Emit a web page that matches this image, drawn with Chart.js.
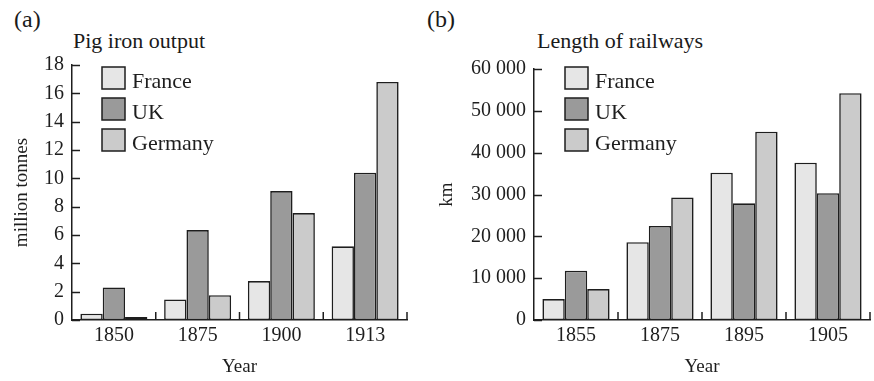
<!DOCTYPE html>
<html><head><meta charset="utf-8">
<script src="https://cdn.jsdelivr.net/npm/chart.js@4/dist/chart.umd.min.js"></script>
<style>
html,body{margin:0;padding:0;background:#fff}
body{width:874px;height:381px;position:relative;overflow:hidden;font-family:"Liberation Serif",serif;color:#1a1a1a}
.lab{position:absolute;font-size:24px;line-height:24px;white-space:nowrap}
.ttl{position:absolute;font-size:22px;line-height:22px;white-space:nowrap}
canvas{position:absolute;top:0}
</style></head><body>
<div class="lab" style="left:14px;top:7px">(a)</div>
<div class="ttl" style="left:73px;top:30px">Pig iron output</div>
<div class="lab" style="left:427px;top:7px">(b)</div>
<div class="ttl" style="left:537px;top:30px">Length of railways</div>
<canvas id="c1" width="434" height="381" style="left:0"></canvas>
<canvas id="c2" width="440" height="381" style="left:434px"></canvas>
<script>
// ---- data ----
const seriesNames = ["France", "UK", "Germany"];
const ironYears = ["1850", "1875", "1900", "1913"];
const ironFrance = [0.45, 1.45, 2.75, 5.2];
const ironUK = [2.3, 6.35, 9.1, 10.4];
const ironGermany = [0.22, 1.75, 7.55, 16.8];
const ironTicks = [0, 2, 4, 6, 8, 10, 12, 14, 16, 18];

const railYears = ["1855", "1875", "1895", "1905"];
const railFrance = [5000, 18600, 35200, 37600];
const railUK = [11800, 22500, 27900, 30300];
const railGermany = [7400, 29300, 45000, 54200];
const railTicks = [0, 10000, 20000, 30000, 40000, 50000, 60000];

// ---- styles ----
const fills = ["#e6e6e6", "#9a9a9a", "#cbcbcb"];
const ink = "#1e1e1e";
const FONT = "'Liberation Serif', serif";

const inTicks = {
  id: "inTicks",
  afterDatasetsDraw(chart) {
    const ctx = chart.ctx, a = chart.chartArea;
    const xs = chart.scales.x, ys = chart.scales.y;
    ctx.save();
    ctx.strokeStyle = ink; ctx.lineWidth = 1.5;
    ys.ticks.forEach(t => {
      const y = Math.round(ys.getPixelForValue(t.value)) + 0.5;
      ctx.beginPath(); ctx.moveTo(a.left, y); ctx.lineTo(a.left + 8, y); ctx.stroke();
    });
    const n = xs.getLabels().length;
    for (let i = 1; i <= n; i++) {
      const x = xs.getPixelForValue(i - 0.5);
      ctx.beginPath(); ctx.moveTo(x, a.bottom); ctx.lineTo(x, a.bottom - 8); ctx.stroke();
    }
    ctx.restore();
  }
};

const boxLegend = {
  id: "boxLegend",
  afterDraw(chart, args, opts) {
    const ctx = chart.ctx, a = chart.chartArea;
    ctx.save();
    ctx.font = "22px " + FONT;
    ctx.textBaseline = "alphabetic";
    chart.data.datasets.forEach((ds, i) => {
      const bx = a.left + opts.dx, by = opts.top + i * 31;
      ctx.fillStyle = ds.backgroundColor;
      ctx.fillRect(bx, by, 23, 22);
      ctx.strokeStyle = ink; ctx.lineWidth = 1.5;
      ctx.strokeRect(bx, by, 23, 22);
      ctx.fillStyle = ink;
      ctx.fillText(ds.label, bx + 30, by + 20.5);
    });
    ctx.restore();
  }
};

function fmt(v) {
  return v >= 10000 ? String(v).replace(/\B(?=(\d{3})+(?!\d))/g, " ") : String(v);
}

function makeChart(id, cats, vals, tickVals, yTitle, yWidth, padTop, padRight, yTitlePad, legDx) {
  return new Chart(document.getElementById(id), {
    type: "bar",
    data: {
      labels: cats,
      datasets: vals.map((v, i) => ({
        label: seriesNames[i], data: v,
        backgroundColor: fills[i], borderColor: ink, borderWidth: 1.6,
        borderSkipped: false,
        categoryPercentage: 0.8, barPercentage: 1.0
      }))
    },
    options: {
      responsive: false, animation: false,
      layout: { padding: { top: padTop, right: padRight, left: 0, bottom: 0 } },
      plugins: { legend: { display: false }, tooltip: { enabled: false }, boxLegend: { dx: legDx, top: 67 } },
      scales: {
        x: {
          grid: { display: false, drawTicks: false },
          border: { display: true, color: ink, width: 1.5 },
          ticks: { color: ink, font: { family: FONT, size: 20 }, padding: 4, maxRotation: 0 },
          title: { display: true, text: "Year", color: ink, font: { family: FONT, size: 19 }, padding: { top: 0, bottom: 3 } },
          afterFit(s) { s.height = 61; }
        },
        y: {
          min: tickVals[0], max: tickVals[tickVals.length - 1],
          afterBuildTicks(s) { s.ticks = tickVals.map(v => ({ value: v })); },
          grid: { display: false, drawTicks: false },
          border: { display: true, color: ink, width: 1.5 },
          ticks: { color: ink, font: { family: FONT, size: 20 }, padding: 8, callback: v => fmt(v) },
          title: { display: true, text: yTitle, color: ink, font: { family: FONT, size: 19 }, padding: { top: yTitlePad, bottom: 0 } },
          afterFit(s) { s.width = yWidth; }
        }
      }
    },
    plugins: [inTicks, boxLegend]
  });
}

makeChart("c1", ironYears, [ironFrance, ironUK, ironGermany], ironTicks, "million tonnes", 72, 65, 27, 11, 30);
makeChart("c2", railYears, [railFrance, railUK, railGermany], railTicks, "km", 100, 69, 4, 2, 31);
</script>
</body></html>
